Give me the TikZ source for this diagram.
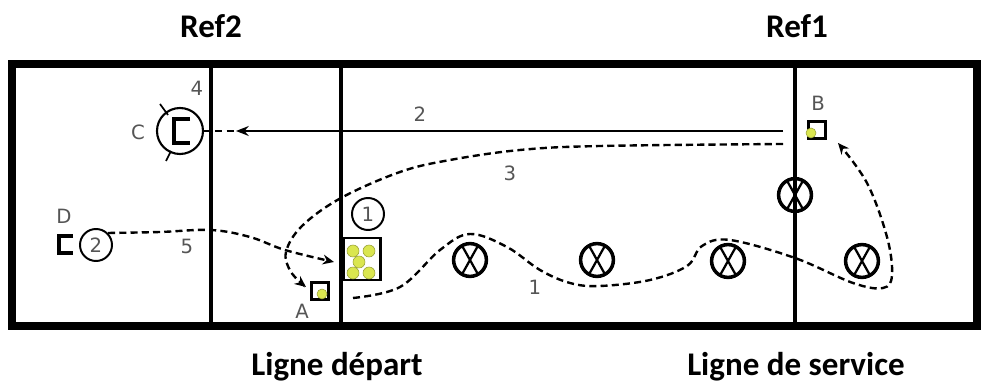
\documentclass[tikz,border=0pt]{standalone}
\usepackage{fontspec}
\setmainfont{DejaVu Sans}
\newfontfamily\titlefont{Carlito}
\usetikzlibrary{arrows.meta}

\definecolor{ballcol}{RGB}{218,230,80}
\definecolor{labelgray}{RGB}{85,85,85}

\begin{document}
\begin{tikzpicture}[
	x=0.025cm, y=-0.025cm,
	court/.style={draw=black, line width=5pt},
	courtline/.style={draw=black, line width=3.5pt},
	title/.style={font=\titlefont\bfseries\fontsize{23.5}{28}\selectfont, inner sep=0pt, anchor=base},
	tag/.style={font=\fontsize{14}{16}\selectfont, text=labelgray, inner sep=0pt},
	player/.style={
		circle,
		draw=black,
		line width=1.4pt,
		minimum size=0.8cm,
		inner sep=0pt,
		font=\fontsize{14}{16}\selectfont,
		text=labelgray
	},
	obstacle/.style={
		circle,
		draw=black,
		line width=2.5pt,
		minimum size=0.82cm,
		inner sep=0pt,
		path picture={
			\draw[line width=1.6pt]
				([xshift=-6.5pt]path picture bounding box.north) -- ([xshift=6.5pt]path picture bounding box.south)
				([xshift=6.5pt]path picture bounding box.north) -- ([xshift=-6.5pt]path picture bounding box.south);
		}
	},
	ball/.style={circle, fill=ballcol, draw=ballcol!70!black, line width=0.4pt, minimum size=0.3cm, inner sep=0pt},
	marker/.style={rectangle, draw=black, line width=2pt, minimum size=0.42cm, inner sep=0pt},
	cone/.style={draw=black, line width=2.2pt},
	route/.style={draw=black, line width=1.7pt, dash pattern=on 5pt off 3pt},
	pass/.style={draw=black, line width=1.5pt},
]

\useasboundingbox (0,0) rectangle (982,385);

\draw[court] (12,64) rectangle (977,326);
\draw[courtline] (211,64) -- (211,326);
\draw[courtline] (341,64) -- (341,326);
\draw[courtline] (795,64) -- (795,326);

\node[title] (ref2) at (211,38) {Ref2};
\node[title] (ref1) at (797,38) {Ref1};
\node[title] (depart) at (337,376) {Ligne départ};
\node[title] (service) at (796,376) {Ligne de service};

\node[obstacle] (o1) at (470,260) {};
\node[obstacle] (o2) at (597,260) {};
\node[obstacle] (o3) at (728,261) {};
\node[obstacle] (o4) at (862,261) {};
\node[obstacle] (o5) at (795,195) {};

\node[rectangle, draw=black, line width=2pt, minimum width=0.925cm, minimum height=1.05cm, fill=white] (box) at (362,259) {};
\node[ball] (b1) at (353,251) {};
\node[ball] (b2) at (369,251) {};
\node[ball] (b3) at (359,262) {};
\node[ball] (b4) at (353,273) {};
\node[ball] (b5) at (369,273) {};
\node[player] (p1) at (368,214) {1};

\node[marker] (mA) at (320,291) {};
\node[ball, minimum size=0.25cm] (ballA) at (322,294) {};
\node[tag] (lA) at (302,311) {A};

\node[marker] (mB) at (817,130) {};
\node[ball, minimum size=0.25cm] (ballB) at (811,133) {};
\node[tag] (lB) at (818,103) {B};

\node[player, minimum size=1.15cm, line width=1.5pt] (pC) at (180,131) {};
\draw[cone] (190,119) -- (174,119) -- (174,143) -- (190,143);
\draw[line width=1.2pt] (160,104) -- (168,115);
\draw[line width=1.2pt] (166,161) -- (171,151);
\node[tag] (lC) at (138,132) {C};
\node[tag] (l4) at (197,88) {4};

\draw[cone] (73,236) -- (59,236) -- (59,253) -- (73,253);
\node[player] (p2) at (96,245) {2};
\node[tag] (lD) at (64,216) {D};

\coordinate (start2) at (783,131);
\coordinate (tip2) at (236,131);
\draw[pass, -{Stealth[length=9pt, width=7pt]}] (start2) -- (tip2);
\draw[route] (pC.east) -- (tip2);
\node[tag] (l2) at (420,114) {2};

\coordinate (start3) at (783,144);
\coordinate (tip3) at (306,287);
\draw[route, -{Stealth[length=8pt, width=7pt]}] plot[smooth, tension=0.6] coordinates {(start3) (600,146) (520,150) (450,160) (400,172) (341,198) (302,226) (286,252) (291,272) (tip3)};
\node[tag] (l3) at (510,173) {3};

\coordinate (tip5) at (334,262);
\draw[route, -{Stealth[length=8pt, width=7pt]}] plot[smooth, tension=0.6] coordinates {(p2.north east) (160,232) (211,230) (250,237) (285,250) (tip5)};
\node[tag] (l5) at (187,246) {5};

\coordinate (start1) at (353,298);
\coordinate (tip1) at (838,143);
\draw[route, -{Stealth[length=8pt, width=7pt]}] plot[smooth, tension=0.6] coordinates {(start1) (400,287) (440,250) (470,234) (507,247) (540,270) (570,283) (600,286) (650,280) (687,266) (702,246) (730,240) (795,258) (853,283) (883,288) (892,275) (887,237) (867,183) (tip1)};
\node[tag] (l1) at (535,287) {1};

\end{tikzpicture}
\end{document}
